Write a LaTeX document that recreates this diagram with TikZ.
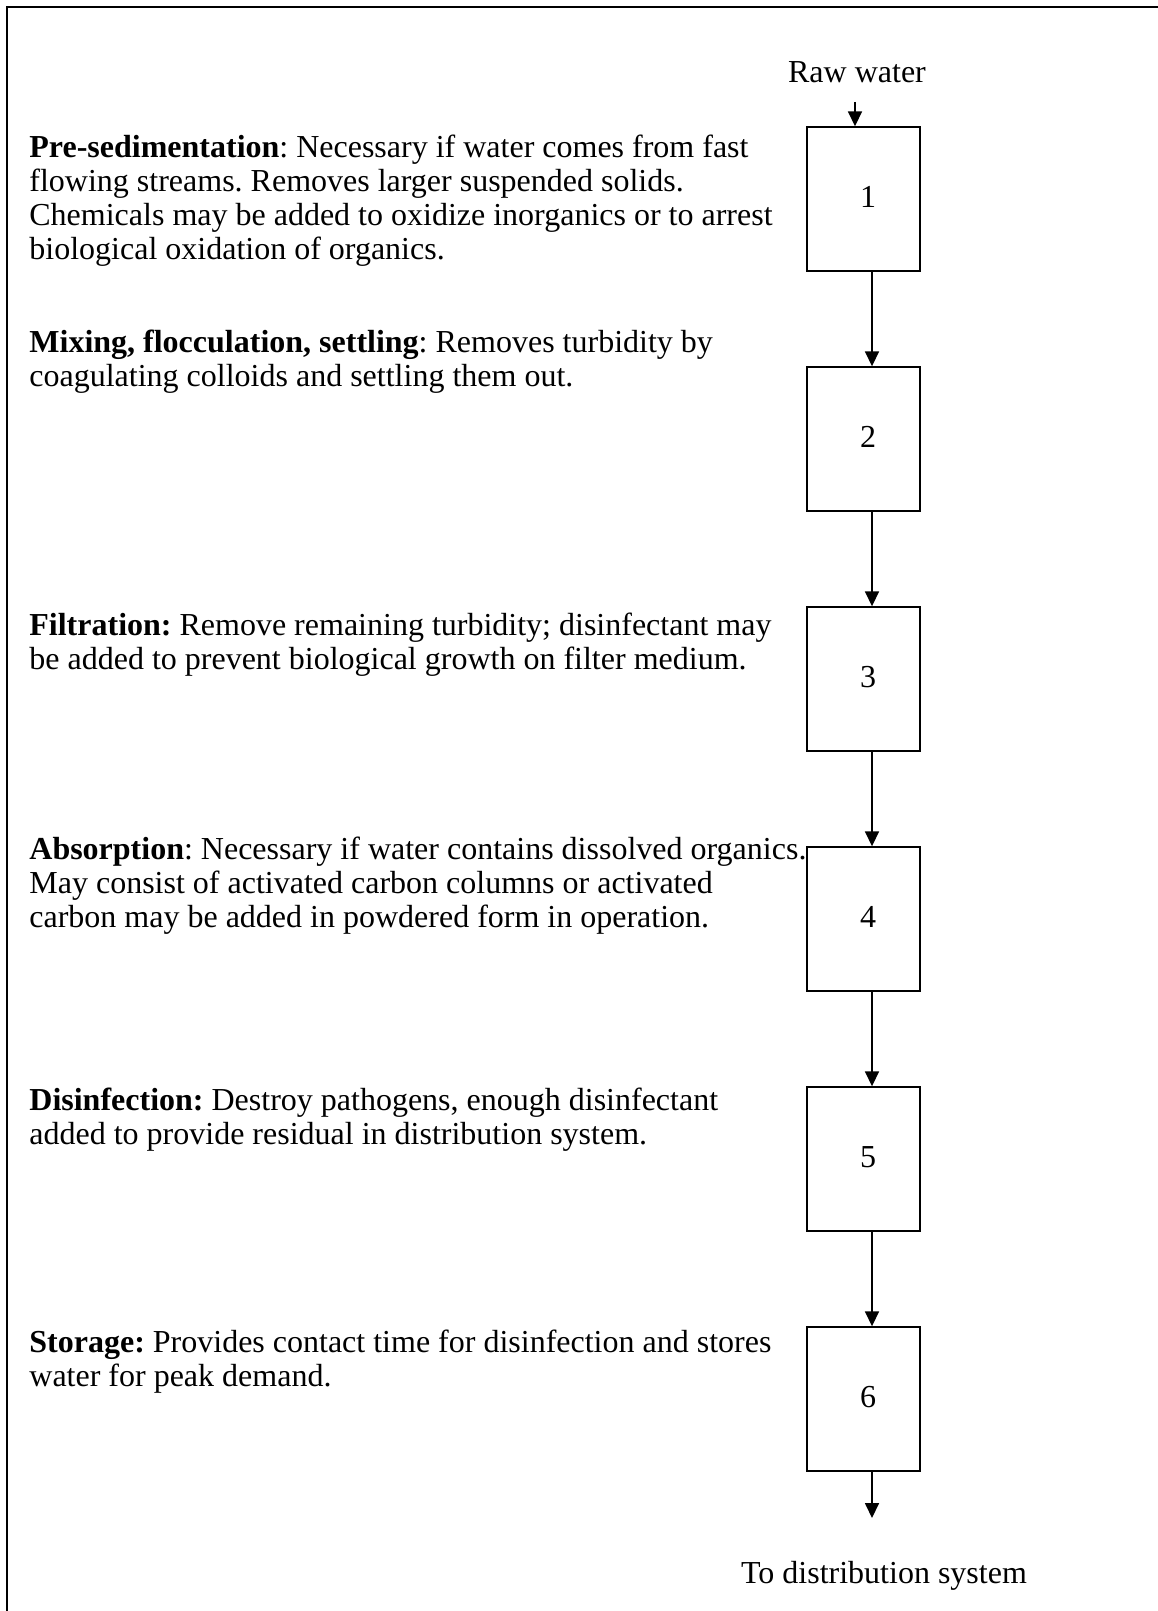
\documentclass[tikz,border=0pt]{standalone}
\usepackage{fontspec}
\setmainfont{Liberation Serif}
\usetikzlibrary{arrows.meta}
\frenchspacing
\begin{document}
\begin{tikzpicture}[x=0.5pt,y=-0.5pt,
  desc/.style={anchor=north west, inner sep=0pt, align=left, font=\fontsize{16pt}{17pt}\selectfont},
  stage/.style={draw, line width=0.7pt, minimum width=56.5pt, minimum height=72pt, inner sep=0pt},
  flow/.style={line width=0.85pt, -{Triangle[length=7.5pt,width=7pt]}},
  lbl/.style={inner sep=0pt, font=\fontsize{16pt}{17pt}\selectfont}]
\useasboundingbox (0,0) rectangle (1157,1611);
\fill[white] (0,0) rectangle (1157,1611);
\draw[line width=0.8pt] (7,1640) -- (7,7) -- (1180,7);

% stages
\foreach \i/\y in {1/199,2/439,3/679,4/919,5/1159,6/1399}{
  \node[stage] (b\i) at (863.5,\y) {};
  \node[lbl] (n\i) at (868,\y-2) {\i};
}

% descriptions
\node[desc] (t1) at (29,133) {\rule{0pt}{12pt}\textbf{Pre-sedimentation}: Necessary if water comes from fast\\flowing streams. Removes larger suspended solids.\\Chemicals may be added to oxidize inorganics or to arrest\\biological oxidation of organics.};
\node[desc] (t2) at (29,328) {\rule{0pt}{12pt}\textbf{Mixing, flocculation, settling}: Removes turbidity by\\coagulating colloids and settling them out.};
\node[desc] (t3) at (29,611) {\rule{0pt}{12pt}\textbf{Filtration:} Remove remaining turbidity; disinfectant may\\be added to prevent biological growth on filter medium.};
\node[desc] (t4) at (29,835) {\rule{0pt}{12pt}\textbf{Absorption}: Necessary if water contains dissolved organics.\\May consist of activated carbon columns or activated\\carbon may be added in powdered form in operation.};
\node[desc] (t5) at (29,1086) {\rule{0pt}{12pt}\textbf{Disinfection:} Destroy pathogens, enough disinfectant\\added to provide residual in distribution system.};
\node[desc] (t6) at (29,1328) {\rule{0pt}{12pt}\textbf{Storage:} Provides contact time for disinfection and stores\\water for peak demand.};

% input / output
\node[lbl, anchor=base] (raw) at (857,83) {Raw water};
\coordinate (rawin) at (855,102);
\draw[flow] (rawin) -- (rawin |- b1.north);
\foreach \a/\b in {1/2,2/3,3/4,4/5,5/6}{
  \draw[flow] ([xshift=4.25pt]b\a.south) -- ([xshift=4.25pt]b\b.north);
}
\coordinate (out) at (872,1518);
\draw[flow] ([xshift=4.25pt]b6.south) -- (out);
\node[lbl, anchor=base] (dist) at (884,1583) {To distribution system};
\end{tikzpicture}
\end{document}
